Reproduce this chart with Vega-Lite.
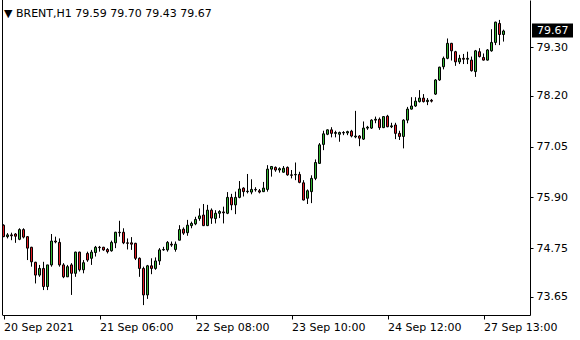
{
  "$schema": "https://vega.github.io/schema/vega-lite/v6.json",
  "width": 528,
  "height": 315,
  "autosize": {"type": "none"},
  "padding": {"left": 2, "top": 0, "right": 50, "bottom": 25},
  "background": "white",
  "config": {
    "view": {"stroke": null},
    "font": "DejaVu Sans",
    "axis": {"labelFont": "DejaVu Sans", "labelFontSize": 11, "labelColor": "#000000", "domainColor": "#000000", "tickColor": "#000000", "domainWidth": 1, "tickWidth": 1, "grid": false, "title": null},
    "axisX": {"orient": "bottom", "tickSize": 4, "labelAlign": "left", "labelBaseline": "top", "labelPadding": 2, "labelFlush": false, "labelOverlap": false},
    "axisY": {"orient": "right", "tickSize": 3, "labelPadding": 3, "labelOverlap": false, "labelFlush": false}
  },
  "title": {"text": "▼ BRENT,H1  79.59 79.70 79.43 79.67", "anchor": "start", "frame": "group", "orient": "top", "offset": -17, "dy": 11, "baseline": "alphabetic", "dx": 2, "fontSize": 11, "fontWeight": "normal", "font": "DejaVu Sans", "color": "#000000"},
  "datasets": {
    "candles": [
      {"i":0,"o":75.27,"h":75.29,"l":75.00,"c":75.01},
      {"i":1,"o":75.01,"h":75.09,"l":74.97,"c":75.05},
      {"i":2,"o":75.05,"h":75.10,"l":74.93,"c":75.03},
      {"i":3,"o":75.07,"h":75.09,"l":74.87,"c":75.02},
      {"i":4,"o":74.95,"h":75.20,"l":74.93,"c":75.17},
      {"i":5,"o":75.17,"h":75.20,"l":74.97,"c":75.00},
      {"i":6,"o":75.01,"h":75.02,"l":74.48,"c":74.75},
      {"i":7,"o":74.77,"h":74.78,"l":74.33,"c":74.44},
      {"i":8,"o":74.43,"h":74.44,"l":73.95,"c":74.14},
      {"i":9,"o":74.14,"h":74.37,"l":74.10,"c":74.29},
      {"i":10,"o":74.29,"h":74.44,"l":73.80,"c":73.88},
      {"i":11,"o":73.88,"h":74.37,"l":73.80,"c":74.37},
      {"i":12,"o":74.37,"h":75.07,"l":74.33,"c":74.91},
      {"i":13,"o":74.91,"h":75.01,"l":74.86,"c":74.89},
      {"i":14,"o":74.88,"h":74.97,"l":74.33,"c":74.37},
      {"i":15,"o":74.37,"h":74.41,"l":74.07,"c":74.10},
      {"i":16,"o":74.10,"h":74.37,"l":74.10,"c":74.33},
      {"i":17,"o":74.37,"h":74.41,"l":73.69,"c":74.18},
      {"i":18,"o":74.18,"h":74.67,"l":74.10,"c":74.66},
      {"i":19,"o":74.66,"h":74.67,"l":74.22,"c":74.26},
      {"i":20,"o":74.26,"h":74.48,"l":74.18,"c":74.42},
      {"i":21,"o":74.63,"h":74.67,"l":74.44,"c":74.48},
      {"i":22,"o":74.52,"h":74.71,"l":74.37,"c":74.66},
      {"i":23,"o":74.65,"h":74.80,"l":74.56,"c":74.77},
      {"i":24,"o":74.77,"h":74.80,"l":74.67,"c":74.76},
      {"i":25,"o":74.77,"h":74.78,"l":74.69,"c":74.71},
      {"i":26,"o":74.72,"h":74.75,"l":74.63,"c":74.67},
      {"i":27,"o":74.69,"h":74.92,"l":74.67,"c":74.88},
      {"i":28,"o":74.87,"h":75.12,"l":74.75,"c":75.11},
      {"i":29,"o":75.11,"h":75.37,"l":75.01,"c":75.10},
      {"i":30,"o":75.11,"h":75.20,"l":74.84,"c":74.87},
      {"i":31,"o":74.87,"h":74.97,"l":74.72,"c":74.86},
      {"i":32,"o":74.87,"h":75.00,"l":74.71,"c":74.84},
      {"i":33,"o":74.86,"h":74.87,"l":74.48,"c":74.52},
      {"i":34,"o":74.52,"h":74.54,"l":74.10,"c":74.29},
      {"i":35,"o":74.29,"h":74.33,"l":73.46,"c":73.69},
      {"i":36,"o":73.69,"h":74.37,"l":73.60,"c":74.35},
      {"i":37,"o":74.35,"h":74.52,"l":74.16,"c":74.29},
      {"i":38,"o":74.29,"h":74.54,"l":74.26,"c":74.46},
      {"i":39,"o":74.46,"h":74.75,"l":74.37,"c":74.71},
      {"i":40,"o":74.71,"h":74.78,"l":74.69,"c":74.72},
      {"i":41,"o":74.71,"h":74.91,"l":74.67,"c":74.88},
      {"i":42,"o":74.84,"h":74.90,"l":74.78,"c":74.82},
      {"i":43,"o":74.72,"h":74.90,"l":74.67,"c":74.84},
      {"i":44,"o":74.93,"h":75.27,"l":74.93,"c":75.17},
      {"i":45,"o":75.18,"h":75.22,"l":75.05,"c":75.09},
      {"i":46,"o":75.10,"h":75.39,"l":75.03,"c":75.27},
      {"i":47,"o":75.26,"h":75.35,"l":75.20,"c":75.31},
      {"i":48,"o":75.30,"h":75.46,"l":75.27,"c":75.40},
      {"i":49,"o":75.42,"h":75.65,"l":75.37,"c":75.48},
      {"i":50,"o":75.50,"h":75.75,"l":75.25,"c":75.26},
      {"i":51,"o":75.26,"h":75.73,"l":75.25,"c":75.61},
      {"i":52,"o":75.61,"h":75.65,"l":75.30,"c":75.43},
      {"i":53,"o":75.42,"h":75.61,"l":75.31,"c":75.54},
      {"i":54,"o":75.54,"h":75.61,"l":75.43,"c":75.58},
      {"i":55,"o":75.57,"h":75.69,"l":75.31,"c":75.55},
      {"i":56,"o":75.54,"h":76.02,"l":75.52,"c":75.90},
      {"i":57,"o":75.90,"h":75.98,"l":75.61,"c":75.73},
      {"i":58,"o":75.73,"h":76.03,"l":75.52,"c":75.90},
      {"i":59,"o":75.90,"h":76.27,"l":75.88,"c":76.09},
      {"i":60,"o":76.11,"h":76.13,"l":75.92,"c":76.03},
      {"i":61,"o":76.03,"h":76.43,"l":75.99,"c":76.04},
      {"i":62,"o":76.02,"h":76.31,"l":75.97,"c":76.08},
      {"i":63,"o":76.08,"h":76.13,"l":76.03,"c":76.07},
      {"i":64,"o":76.05,"h":76.09,"l":75.99,"c":76.02},
      {"i":65,"o":76.03,"h":76.25,"l":76.02,"c":76.11},
      {"i":66,"o":76.08,"h":76.63,"l":76.03,"c":76.54},
      {"i":67,"o":76.54,"h":76.61,"l":76.37,"c":76.60},
      {"i":68,"o":76.58,"h":76.60,"l":76.48,"c":76.52},
      {"i":69,"o":76.52,"h":76.58,"l":76.46,"c":76.55},
      {"i":70,"o":76.47,"h":76.61,"l":76.46,"c":76.56},
      {"i":71,"o":76.58,"h":76.60,"l":76.39,"c":76.41},
      {"i":72,"o":76.41,"h":76.52,"l":76.33,"c":76.40},
      {"i":73,"o":76.41,"h":76.69,"l":76.29,"c":76.42},
      {"i":74,"o":76.42,"h":76.48,"l":76.22,"c":76.24},
      {"i":75,"o":76.23,"h":76.29,"l":75.83,"c":75.84},
      {"i":76,"o":75.88,"h":76.08,"l":75.75,"c":76.05},
      {"i":77,"o":76.03,"h":76.40,"l":75.77,"c":76.33},
      {"i":78,"o":76.33,"h":76.76,"l":76.29,"c":76.69},
      {"i":79,"o":76.67,"h":77.13,"l":76.66,"c":77.09},
      {"i":80,"o":77.10,"h":77.41,"l":76.97,"c":77.34},
      {"i":81,"o":77.33,"h":77.44,"l":77.31,"c":77.43},
      {"i":82,"o":77.43,"h":77.49,"l":77.26,"c":77.35},
      {"i":83,"o":77.35,"h":77.41,"l":77.26,"c":77.37},
      {"i":84,"o":77.33,"h":77.39,"l":77.16,"c":77.37},
      {"i":85,"o":77.37,"h":77.40,"l":77.31,"c":77.36},
      {"i":86,"o":77.36,"h":77.41,"l":77.31,"c":77.39},
      {"i":87,"o":77.40,"h":77.43,"l":77.26,"c":77.29},
      {"i":88,"o":77.27,"h":77.86,"l":77.24,"c":77.29},
      {"i":89,"o":77.29,"h":77.31,"l":77.06,"c":77.24},
      {"i":90,"o":77.22,"h":77.62,"l":77.20,"c":77.47},
      {"i":91,"o":77.47,"h":77.52,"l":77.43,"c":77.49},
      {"i":92,"o":77.47,"h":77.67,"l":77.45,"c":77.65},
      {"i":93,"o":77.65,"h":77.73,"l":77.58,"c":77.67},
      {"i":94,"o":77.67,"h":77.71,"l":77.43,"c":77.48},
      {"i":95,"o":77.48,"h":77.74,"l":77.47,"c":77.73},
      {"i":96,"o":77.74,"h":77.77,"l":77.49,"c":77.50},
      {"i":97,"o":77.50,"h":77.59,"l":77.47,"c":77.52},
      {"i":98,"o":77.54,"h":77.59,"l":77.22,"c":77.35},
      {"i":99,"o":77.35,"h":77.41,"l":77.20,"c":77.28},
      {"i":100,"o":77.28,"h":77.67,"l":77.01,"c":77.65},
      {"i":101,"o":77.65,"h":77.95,"l":77.58,"c":77.90},
      {"i":102,"o":77.90,"h":78.17,"l":77.89,"c":77.97},
      {"i":103,"o":77.97,"h":78.17,"l":77.95,"c":78.08},
      {"i":104,"o":78.07,"h":78.33,"l":78.05,"c":78.15},
      {"i":105,"o":78.15,"h":78.24,"l":78.05,"c":78.07},
      {"i":106,"o":78.07,"h":78.15,"l":77.99,"c":78.10},
      {"i":107,"o":78.10,"h":78.13,"l":78.05,"c":78.08},
      {"i":108,"o":78.24,"h":78.58,"l":78.22,"c":78.56},
      {"i":109,"o":78.56,"h":78.86,"l":78.54,"c":78.85},
      {"i":110,"o":78.86,"h":79.09,"l":78.80,"c":79.05},
      {"i":111,"o":79.05,"h":79.50,"l":79.03,"c":79.39},
      {"i":112,"o":79.39,"h":79.40,"l":79.00,"c":79.22},
      {"i":113,"o":79.20,"h":79.22,"l":78.88,"c":78.97},
      {"i":114,"o":78.97,"h":79.13,"l":78.92,"c":79.05},
      {"i":115,"o":79.05,"h":79.15,"l":78.92,"c":79.03},
      {"i":116,"o":79.03,"h":79.20,"l":78.92,"c":79.05},
      {"i":117,"o":79.01,"h":79.09,"l":78.75,"c":78.77},
      {"i":118,"o":78.75,"h":79.24,"l":78.63,"c":79.22},
      {"i":119,"o":79.20,"h":79.28,"l":79.07,"c":79.09},
      {"i":120,"o":79.07,"h":79.16,"l":79.00,"c":79.01},
      {"i":121,"o":79.01,"h":79.26,"l":79.00,"c":79.24},
      {"i":122,"o":79.22,"h":79.71,"l":79.20,"c":79.41},
      {"i":123,"o":79.41,"h":79.88,"l":79.35,"c":79.87},
      {"i":124,"o":79.84,"h":79.92,"l":79.35,"c":79.59},
      {"i":125,"o":79.59,"h":79.70,"l":79.43,"c":79.67}
    ],
    "last": [{"price": 79.67, "label": "79.67"}]
  },
  "layer": [
    {
      "data": {"name": "candles"},
      "mark": {"type": "rule", "color": "#000000", "strokeWidth": 1},
      "encoding": {
        "x": {"field": "i", "type": "quantitative", "scale": {"domain": [-0.375, 131.625], "nice": false, "zero": false, "padding": 0},
          "axis": {"values": [0, 24, 48, 72, 96, 120], "labelExpr": "datum.value == 0 ? '20 Sep 2021' : datum.value == 24 ? '21 Sep 06:00' : datum.value == 48 ? '22 Sep 08:00' : datum.value == 72 ? '23 Sep 10:00' : datum.value == 96 ? '24 Sep 12:00' : '27 Sep 13:00'"}},
        "y": {"field": "l", "type": "quantitative", "scale": {"domain": [73.2353, 80.3716], "nice": false, "zero": false, "padding": 0},
          "axis": {"values": [73.65, 74.75, 75.9, 77.05, 78.2, 79.3], "format": ".2f"}},
        "y2": {"field": "h"}
      }
    },
    {
      "data": {"name": "candles"},
      "mark": {"type": "bar", "orient": "vertical", "size": 2, "stroke": "#000000", "strokeWidth": 1},
      "encoding": {
        "x": {"field": "i", "type": "quantitative", "scale": {"domain": [-0.375, 131.625], "nice": false, "zero": false, "padding": 0},
          "axis": {"values": [0, 24, 48, 72, 96, 120], "labelExpr": "datum.value == 0 ? '20 Sep 2021' : datum.value == 24 ? '21 Sep 06:00' : datum.value == 48 ? '22 Sep 08:00' : datum.value == 72 ? '23 Sep 10:00' : datum.value == 96 ? '24 Sep 12:00' : '27 Sep 13:00'"}},
        "y": {"field": "o", "type": "quantitative", "scale": {"domain": [73.2353, 80.3716], "nice": false, "zero": false, "padding": 0},
          "axis": {"values": [73.65, 74.75, 75.9, 77.05, 78.2, 79.3], "format": ".2f"}},
        "y2": {"field": "c"},
        "fill": {"condition": {"test": "datum.c >= datum.o", "value": "#32b432"}, "value": "#e31c23"}
      }
    },
    {
      "data": {"name": "last"},
      "mark": {"type": "rule", "color": "#000000", "strokeWidth": 1},
      "encoding": {
        "x": {"datum": -0.25, "type": "quantitative", "scale": {"domain": [-0.375, 131.625], "nice": false, "zero": false, "padding": 0},
          "axis": {"values": [0, 24, 48, 72, 96, 120], "labelExpr": "datum.value == 0 ? '20 Sep 2021' : datum.value == 24 ? '21 Sep 06:00' : datum.value == 48 ? '22 Sep 08:00' : datum.value == 72 ? '23 Sep 10:00' : datum.value == 96 ? '24 Sep 12:00' : '27 Sep 13:00'"}}
      }
    },
    {
      "data": {"name": "last"},
      "mark": {"type": "rect", "color": "#000000", "yOffset": -7.5, "y2Offset": 6.5},
      "encoding": {
        "x": {"datum": 132.125, "type": "quantitative", "scale": {"domain": [-0.375, 131.625], "nice": false, "zero": false, "padding": 0},
          "axis": {"values": [0, 24, 48, 72, 96, 120], "labelExpr": "datum.value == 0 ? '20 Sep 2021' : datum.value == 24 ? '21 Sep 06:00' : datum.value == 48 ? '22 Sep 08:00' : datum.value == 72 ? '23 Sep 10:00' : datum.value == 96 ? '24 Sep 12:00' : '27 Sep 13:00'"}},
        "x2": {"datum": 142.375},
        "y": {"field": "price", "type": "quantitative", "scale": {"domain": [73.2353, 80.3716], "nice": false, "zero": false, "padding": 0},
          "axis": {"values": [73.65, 74.75, 75.9, 77.05, 78.2, 79.3], "format": ".2f"}},
        "y2": {"field": "price"}
      }
    },
    {
      "data": {"name": "last"},
      "mark": {"type": "text", "align": "left", "baseline": "middle", "color": "#ffffff", "font": "DejaVu Sans", "fontSize": 11},
      "encoding": {
        "x": {"datum": 133.375, "type": "quantitative", "scale": {"domain": [-0.375, 131.625], "nice": false, "zero": false, "padding": 0},
          "axis": {"values": [0, 24, 48, 72, 96, 120], "labelExpr": "datum.value == 0 ? '20 Sep 2021' : datum.value == 24 ? '21 Sep 06:00' : datum.value == 48 ? '22 Sep 08:00' : datum.value == 72 ? '23 Sep 10:00' : datum.value == 96 ? '24 Sep 12:00' : '27 Sep 13:00'"}},
        "y": {"field": "price", "type": "quantitative", "scale": {"domain": [73.2353, 80.3716], "nice": false, "zero": false, "padding": 0},
          "axis": {"values": [73.65, 74.75, 75.9, 77.05, 78.2, 79.3], "format": ".2f"}},
        "text": {"field": "label"}
      }
    }
  ]
}
